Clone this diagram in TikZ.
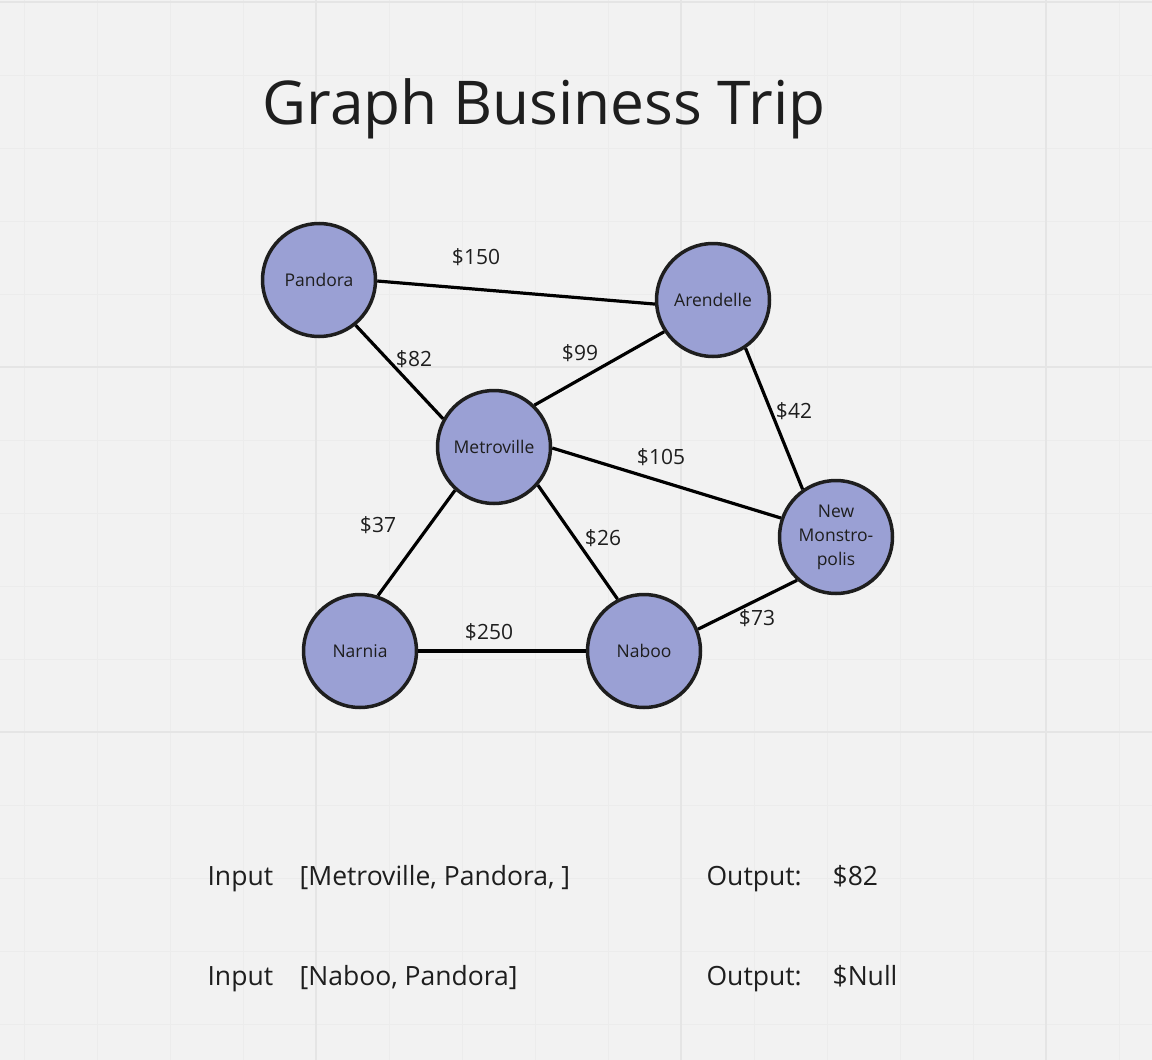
\documentclass[tikz,border=0pt]{standalone}
\usepackage{fontspec}
\setmainfont{Open Sans}
\definecolor{board}{HTML}{F2F2F2}
\definecolor{gridminor}{HTML}{ECECEC}
\definecolor{gridmajor}{HTML}{E5E5E5}
\definecolor{cityfill}{HTML}{9AA0D4}
\definecolor{ink}{HTML}{1E1E1E}
\begin{document}
\begin{tikzpicture}[x=1pt, y=-1pt, line width=3.2pt,
  city/.style={circle, draw=ink, line width=3.5pt, fill=cityfill, minimum size=113pt,
    inner sep=0pt, text=ink, font=\fontsize{17.5}{24}\selectfont, align=center},
  cost/.style={text=ink, font=\fontsize{21}{24}\selectfont},
  note/.style={anchor=base west, inner sep=0pt, text=ink, font=\fontsize{26.5}{30}\selectfont}]
  \useasboundingbox (0,0) rectangle (1152,1060);
  \fill[board] (0,0) rectangle (1152,1060);
  \foreach \i in {0,...,15}
    \draw[gridminor, line width=1pt] (24+73*\i,0) -- (24+73*\i,1060);
  \foreach \j in {0,...,14}
    \draw[gridminor, line width=1pt] (0,2+73*\j) -- (1152,2+73*\j);
  \foreach \i in {0,1,2}
    \draw[gridmajor, line width=1.8pt] (316+365*\i,0) -- (316+365*\i,1060);
  \foreach \j in {0,1,2}
    \draw[gridmajor, line width=1.8pt] (0,2+365*\j) -- (1152,2+365*\j);

  \node[anchor=base west, inner sep=0pt, text=ink, font=\fontsize{60.4}{72}\selectfont] (title) at (261,124) {Graph Business Trip};

  \node[city] (pandora) at (319,280) {Pandora};
  \node[city] (arendelle) at (713,300) {Arendelle};
  \node[city] (metroville) at (494,447) {Metroville};
  \node[city] (monstropolis) at (836,537) {New\\Monstro-\\polis};
  \node[city] (narnia) at (360,651) {Narnia};
  \node[city] (naboo) at (644,651) {Naboo};

  \draw (pandora.-1) -- (arendelle.184);
  \draw (pandora.-51) -- (metroville.151);
  \draw (metroville.46) -- (arendelle.213);
  \draw (arendelle.-56) -- (monstropolis.125);
  \draw (metroville.-1) -- (monstropolis.161);
  \draw (metroville.-132) -- (narnia.72);
  \draw (metroville.-41) -- (naboo.117);
  \draw (narnia.0) -- (naboo.180);
  \draw (naboo.22) -- (monstropolis.-132);

  \node[cost] (c150) at (476,257) {\$150};
  \node[cost] (c82) at (414,359) {\$82};
  \node[cost] (c99) at (580,353) {\$99};
  \node[cost] (c42) at (794,411) {\$42};
  \node[cost] (c105) at (661,457) {\$105};
  \node[cost] (c37) at (378,525) {\$37};
  \node[cost] (c26) at (603,538) {\$26};
  \node[cost] (c73) at (757,618) {\$73};
  \node[cost] (c250) at (489,632) {\$250};

  \node[note] (inA) at (206,885) {Input};
  \node[note] (listA) at (298,885) {[Metroville, Pandora, ]};
  \node[note] (outA) at (705,885) {Output:};
  \node[note] (valA) at (831,885) {\$82};
  \node[note] (inB) at (206,985) {Input};
  \node[note] (listB) at (298,985) {[Naboo, Pandora]};
  \node[note] (outB) at (705,985) {Output:};
  \node[note] (valB) at (831,985) {\$Null};
\end{tikzpicture}
\end{document}
